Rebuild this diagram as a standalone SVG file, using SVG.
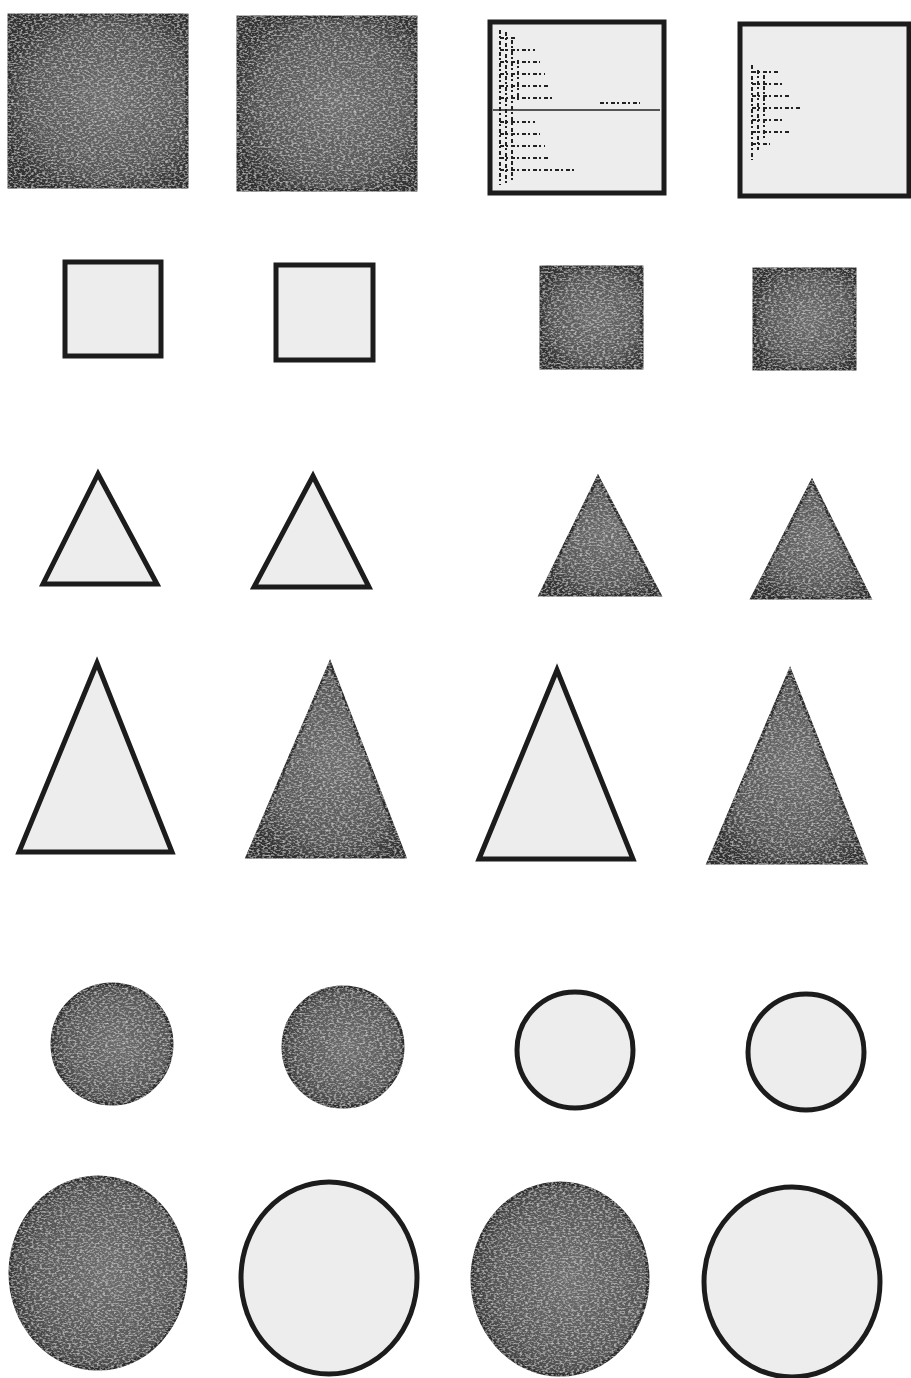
<svg xmlns="http://www.w3.org/2000/svg" width="911" height="1378" viewBox="0 0 911 1378">
<defs>
<radialGradient id="dg" cx="0.55" cy="0.5" r="0.6">
<stop offset="0" stop-color="#6e6e6e"/>
<stop offset="0.7" stop-color="#575757"/>
<stop offset="1" stop-color="#333"/>
</radialGradient>
<filter id="noise" x="-5%" y="-5%" width="110%" height="110%">
<feTurbulence type="fractalNoise" baseFrequency="0.35 0.6" numOctaves="2" seed="3" result="n"/>
<feColorMatrix in="n" type="matrix" values="0 0 0 0 1  0 0 0 0 1  0 0 0 0 1  0 0 0 1.2 -0.55" result="w"/>
<feComposite in="w" in2="SourceGraphic" operator="in" result="wc"/>
<feMerge><feMergeNode in="SourceGraphic"/><feMergeNode in="wc"/></feMerge>
</filter>
</defs>
<style>
.dark{fill:url(#dg);stroke:#2e2e2e;stroke-width:3;filter:url(#noise)}
.light{fill:#ededed;stroke:#1c1c1c;stroke-width:5;stroke-linejoin:miter}
.tex{fill:none;stroke:#222;stroke-width:2;stroke-dasharray:4 2 2 3}
.line{fill:none;stroke:#222;stroke-width:1.5}
</style>
<rect width="911" height="1378" fill="#ffffff"/>
<g id="sq1"><rect class="dark" x="9" y="15" width="178" height="172"/></g>
<g id="sq2"><rect class="dark" x="238" y="17" width="178" height="173"/></g>
<g id="sq3"><rect class="light" x="490" y="22" width="174" height="171"/>
<path class="tex" d="M500 30 V185 M506 32 V185 M512 40 V180 M518 60 V100 M500 38 H515 M500 50 H535 M500 62 H540 M500 74 H545 M500 86 H548 M500 98 H552 M500 122 H535 M500 134 H540 M500 146 H545 M500 158 H550 M500 170 H575 M600 103 H640"/>
<path class="line" d="M493 110 H660"/></g>
<g id="sq4"><rect class="light" x="740" y="24" width="169" height="172"/>
<path class="tex" d="M752 65 V160 M758 70 V150 M764 75 V140 M752 72 H780 M752 84 H785 M752 96 H790 M752 108 H800 M752 120 H785 M752 132 H790 M752 144 H770"/></g>
<g id="sq5"><rect class="light" x="65" y="262" width="96" height="94"/></g>
<g id="sq6"><rect class="light" x="276" y="265" width="97" height="95"/></g>
<g id="sq7"><rect class="dark" x="541" y="267" width="101" height="101"/></g>
<g id="sq8"><rect class="dark" x="754" y="269" width="101" height="100"/></g>
<g id="t1"><polygon class="light" points="98,474 43,584 157,584"/></g>
<g id="t2"><polygon class="light" points="313,476 254,587 369,587"/></g>
<g id="t3"><polygon class="dark" points="598,477 540,595 660,595"/></g>
<g id="t4"><polygon class="dark" points="812,481 752,598 870,598"/></g>
<g id="t5"><polygon class="light" points="97,663 19,852 172,852"/></g>
<g id="t6"><polygon class="dark" points="330,663 247,857 405,857"/></g>
<g id="t7"><polygon class="light" points="557,670 479,859 633,859"/></g>
<g id="t8"><polygon class="dark" points="790,670 708,863 866,863"/></g>
<g id="c1"><ellipse class="dark" cx="112" cy="1044" rx="60" ry="60"/></g>
<g id="c2"><ellipse class="dark" cx="343" cy="1047" rx="60" ry="60"/></g>
<g id="c3"><ellipse class="light" cx="575" cy="1050" rx="58" ry="58"/></g>
<g id="c4"><ellipse class="light" cx="806" cy="1052" rx="58" ry="58"/></g>
<g id="c5"><ellipse class="dark" cx="98" cy="1273" rx="88" ry="96"/></g>
<g id="c6"><ellipse class="light" cx="329" cy="1278" rx="88" ry="96"/></g>
<g id="c7"><ellipse class="dark" cx="560" cy="1279" rx="88" ry="96"/></g>
<g id="c8"><ellipse class="light" cx="792" cy="1282" rx="88" ry="95"/></g>
</svg>
